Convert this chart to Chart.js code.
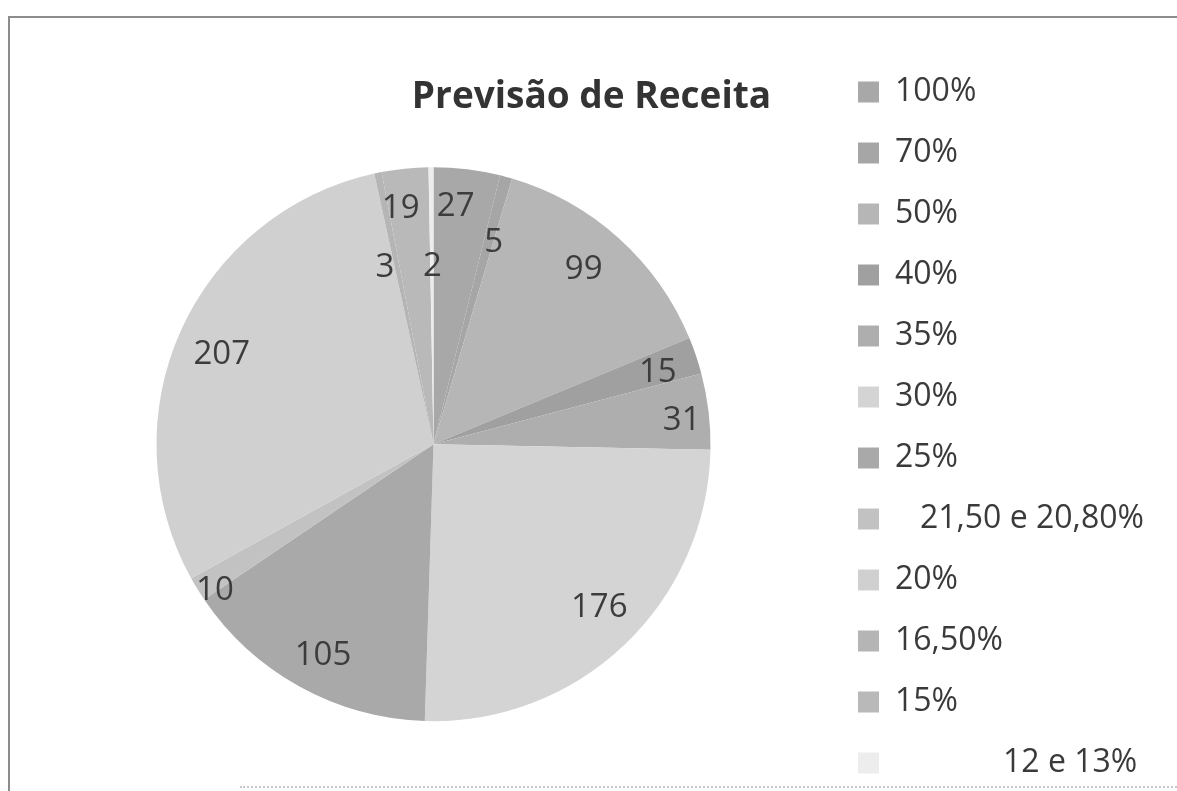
<!DOCTYPE html>
<html>
<head>
<meta charset="utf-8">
<script src="https://cdn.jsdelivr.net/npm/chart.js@4.4.1/dist/chart.umd.min.js"></script>
<style>
  html, body { margin: 0; padding: 0; background: #ffffff; }
  #wrap { position: relative; width: 1177px; height: 791px; overflow: hidden; background: #ffffff; }
  #frame { position: absolute; left: 8px; top: 16px; width: 1200px; height: 800px;
           border-left: 2px solid #8c8c8c; border-top: 2px solid #8c8c8c; }
  #bottomline { position: absolute; left: 240px; top: 786px; width: 937px; height: 0;
                border-top: 2px dotted #c8c8c8; }
  canvas { position: absolute; left: 0; top: 0; }
</style>
</head>
<body>
<div id="wrap">
  <div id="frame"></div>
  <div id="bottomline"></div>
  <canvas id="c" width="1177" height="791"></canvas>
</div>
<script>
// ---- data ----
const chartTitle = 'Previsão de Receita';
const categories = ['100%', '70%', '50%', '40%', '35%', '30%', '25%',
                    '   21,50 e 20,80%', '20%', '16,50%', '15%', '             12 e 13%'];
const values = [27, 5, 99, 15, 31, 176, 105, 10, 207, 3, 19, 2];

// ---- styles ----
const sliceColors = ['#a8a8a8', '#a6a6a6', '#b6b6b6', '#a0a0a0', '#aeaeae', '#d4d4d4',
                     '#a9a9a9', '#c2c2c2', '#d0d0d0', '#b5b5b5', '#b9b9b9', '#ededed'];
const labelRadial = [0.86, 0.76, 0.83, 0.85, 0.90, 0.84, 0.86, 0.95, 0.83, 0.66, 0.86, 0.64];
const labelNudgeDeg = [-1.6, 1.4, -1.2, 1.0, 1.3, -1.9, -1.2, -2.3, -1.4, -3.8, -2.0, 0.2];

const sliceLabels = {
  id: 'sliceLabels',
  afterDatasetsDraw(chart) {
    const meta = chart.getDatasetMeta(0);
    const ctx = chart.ctx;
    ctx.save();
    ctx.font = '33px "Open Sans"';
    ctx.fillStyle = '#3c3c3c';
    ctx.textAlign = 'center';
    ctx.textBaseline = 'middle';
    meta.data.forEach((arc, i) => {
      const p = arc.getProps(['x', 'y', 'startAngle', 'endAngle', 'outerRadius'], true);
      const mid = (p.startAngle + p.endAngle) / 2 + labelNudgeDeg[i] * Math.PI / 180;
      const r = p.outerRadius * labelRadial[i];
      ctx.fillText(String(values[i]), p.x + Math.cos(mid) * r, p.y + Math.sin(mid) * r);
    });
    ctx.restore();
  }
};

new Chart(document.getElementById('c'), {
  type: 'pie',
  data: {
    labels: categories,
    datasets: [{
      data: values,
      backgroundColor: sliceColors,
      borderWidth: 0
    }]
  },
  options: {
    responsive: false,
    animation: false,
    radius: 277,
    layout: { padding: { left: 38, right: 32, top: 47, bottom: -20 } },
    plugins: {
      title: {
        display: true,
        text: chartTitle,
        color: '#333333',
        font: { family: 'Open Sans', size: 37, weight: 'bold' },
        padding: { top: 28, bottom: -22 }
      },
      legend: {
        position: 'right',
        align: 'start',
        maxWidth: 316,
        labels: {
          color: '#3a3a3a',
          font: { family: 'Open Sans', size: 32 },
          boxWidth: 21,
          boxHeight: 21,
          padding: 29
        }
      },
      tooltip: { enabled: false }
    }
  },
  plugins: [sliceLabels]
});
</script>
</body>
</html>
